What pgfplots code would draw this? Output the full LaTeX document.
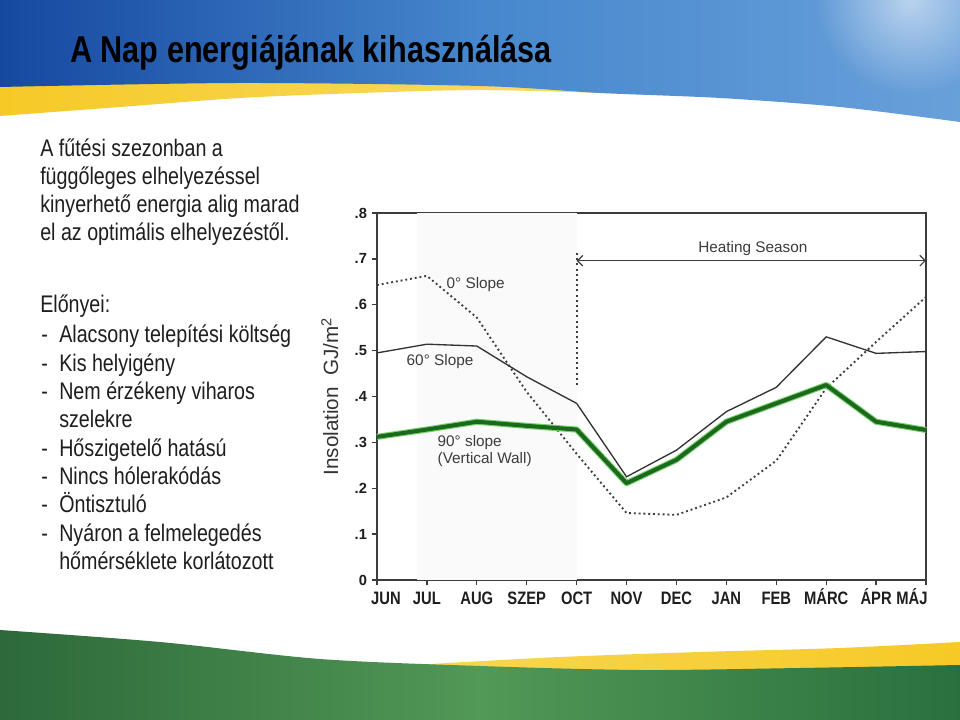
\documentclass[border=0pt]{standalone}
\usepackage{fontspec}
\setmainfont[FakeStretch=0.82]{Liberation Sans}
\newfontfamily\wide{Liberation Sans}
\usepackage{pgfplots}
\pgfplotsset{compat=1.18}
\usetikzlibrary{arrows.meta,fadings}
\tikzfading[name=glow, inner color=transparent!0, outer color=transparent!100]
\definecolor{blueA}{RGB}{22,72,160}
\definecolor{blueB}{RGB}{70,135,205}
\definecolor{blueC}{RGB}{105,160,218}
\definecolor{yel}{RGB}{245,205,40}
\definecolor{grA}{RGB}{45,105,58}
\definecolor{grB}{RGB}{82,152,86}
\definecolor{grC}{RGB}{40,112,62}
\definecolor{wallgreen}{RGB}{28,105,30}
\definecolor{halo}{RGB}{120,210,110}
\definecolor{txt}{RGB}{30,30,30}
\definecolor{ink}{RGB}{60,60,60}
\begin{document}
\begin{tikzpicture}
\begin{scope}[yshift=540pt, x=0.75pt, y=-0.75pt]
  \fill[white] (0,0) rectangle (960,720);
  % header yellow swoosh
  \shade[left color=yel!95!orange, right color=yel!70!white]
    (0,70) -- (620,70) -- (620,93)
    -- plot[smooth] coordinates {(600,93) (480,90) (360,93) (240,98) (120,107) (0,116)} -- cycle;
  % header blue
  \shade[left color=blueA, right color=blueC, middle color=blueB]
    (0,0) -- (960,0) -- (960,122)
    -- plot[smooth] coordinates {(960,122) (840,107) (720,98) (600,93) (480,86) (240,83) (0,87)}
    -- cycle;
  \begin{scope}
    \clip (0,0) rectangle (960,100);
    \fill[white, opacity=0.55, path fading=glow] (910,0) circle (95);
  \end{scope}
  % footer yellow
  \shade[left color=yel!80!white, right color=yel!95!orange]
    (400,668) -- plot[smooth] coordinates {(430,664) (560,657) (700,652) (840,648) (960,642)}
    -- (960,700) -- (400,700) -- cycle;
  % footer green
  \shade[left color=grA, right color=grC, middle color=grB]
    (0,720) -- (0,630)
    -- plot[smooth] coordinates {(0,630) (160,642) (320,659) (480,666) (640,670) (800,668) (960,665)}
    -- (960,720) -- cycle;
  % title
  \node[anchor=base west, inner sep=0, font=\fontsize{28}{30}\selectfont\bfseries, text=black] at (70,63) {A Nap energiájának kihasználása};
  % body text
  \begin{scope}[every node/.style={anchor=base west, inner sep=0, font=\fontsize{18}{21}\selectfont, text=txt}]
    \node at (40,157) {A fűtési szezonban a};
    \node at (40,185) {függőleges elhelyezéssel};
    \node at (40,213) {kinyerhető energia alig marad};
    \node at (40,241) {el az optimális elhelyezéstől.};
    \node at (40,313) {Előnyei:};
    \foreach \yy in {343,372,400,457,485,513,542} {\node at (41,\yy) {-};}
    \node at (59,343) {Alacsony telepítési költség};
    \node at (59,372) {Kis helyigény};
    \node at (59,400) {Nem érzékeny viharos};
    \node at (59,428) {szelekre};
    \node at (59,457) {Hőszigetelő hatású};
    \node at (59,485) {Nincs hólerakódás};
    \node at (59,513) {Öntisztuló};
    \node at (59,542) {Nyáron a felmelegedés};
    \node at (59,570) {hőmérséklete korlátozott};
  \end{scope}
\end{scope}

\begin{axis}[
  at={(282.75pt,105pt)}, anchor=south west,
  scale only axis, width=411.75pt, height=275.25pt,
  xmin=0, xmax=11, ymin=0, ymax=0.8,
  axis line style={ink, line width=1.1pt},
  xtick={0,1,2,3,4,5,6,7,8,9,10,11},
  xticklabels={\hspace*{13.5pt}JUN,JUL,AUG,SZEP,OCT,NOV,DEC,JAN,FEB,MÁRC,ÁPR,MÁJ\hspace*{21pt}},
  ytick={0,0.1,0.2,0.3,0.4,0.5,0.6,0.7,0.8},
  yticklabels={0,.1,.2,.3,.4,.5,.6,.7,.8},
  xtick pos=bottom, ytick pos=left,
  tick align=outside,
  major tick length=4pt,
  tick style={ink, line width=1pt},
  /pgf/number format/assume math mode=true,
  xticklabel style={font=\fontsize{13.5}{14}\selectfont\bfseries, text=txt, anchor=north, text height=9.7pt, text depth=0pt, yshift=-1.5pt},
  yticklabel style={font=\wide\fontsize{11}{12}\selectfont\bfseries, text=txt},
  ylabel={Insolation\ \ GJ/m\textsuperscript{2}},
  ylabel style={at={(axis description cs:-0.086,0.5)}, anchor=center, font=\wide\fontsize{15.5}{16}\selectfont, text=black!80},
  clip=false,
]
  \fill[gray!4] (axis cs:0.8,0) rectangle (axis cs:4,0.8);
  % 0 deg slope
  \addplot[no markers, ink, line width=1.4pt, dash pattern=on 1.4pt off 2.2pt] coordinates {
    (0,0.643) (1,0.663) (2,0.572) (3,0.41) (4,0.275) (5,0.146)
    (6,0.142) (7,0.18) (8,0.26) (9,0.418) (10,0.519) (11,0.617)};
  % 60 deg slope
  \addplot[no markers, black!80, line width=1pt] coordinates {
    (0,0.495) (1,0.514) (2,0.51) (3,0.443) (4,0.385) (5,0.225)
    (6,0.283) (7,0.367) (8,0.42) (9,0.53) (10,0.494) (11,0.498)};
  % 90 deg slope
  \addplot[no markers, wallgreen, line width=3pt, line join=round,
    preaction={draw, halo, line width=4.6pt}] coordinates {
    (0,0.312) (1,0.328) (2,0.345) (3,0.336) (4,0.328) (5,0.211)
    (6,0.262) (7,0.345) (8,0.385) (9,0.425) (10,0.345) (11,0.327)};
  % heating season
  \draw[ink, line width=1.5pt, dash pattern=on 1.5pt off 2.4pt] (axis cs:4,0.425) -- (axis cs:4,0.718);
  \draw[ink, line width=0.9pt, {Straight Barb[length=4pt,width=8pt]}-{Straight Barb[length=4pt,width=8pt]}]
    (axis cs:4,0.696) -- (axis cs:11,0.696);
  \node[font=\wide\fontsize{11.5}{12}\selectfont, text=ink] at (axis cs:7.53,0.722) {Heating Season};
  \node[anchor=west, inner sep=0, font=\wide\fontsize{11.5}{12}\selectfont, text=ink] at (axis cs:1.39,0.643) {0° Slope};
  \node[anchor=west, inner sep=0, font=\wide\fontsize{11.5}{12}\selectfont, text=ink] at (axis cs:0.59,0.477) {60° Slope};
  \node[anchor=west, inner sep=0, align=left, font=\wide\fontsize{11.5}{13}\selectfont, text=ink] at (axis cs:1.21,0.281) {90° slope\\(Vertical Wall)};
\end{axis}
\pgfresetboundingbox
\useasboundingbox (0pt,0pt) rectangle (720pt,540pt);
\end{tikzpicture}
\end{document}
